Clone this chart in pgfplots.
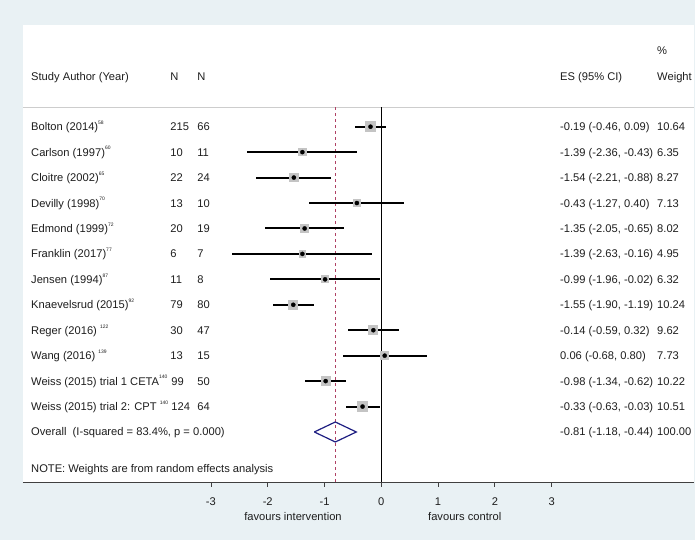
\documentclass[border=0pt]{standalone}
\usepackage{fontspec}
\setmainfont{Liberation Sans}
\usepackage{pgfplots}
\pgfplotsset{compat=1.18}
\usepackage{pgfplotstable}
\usetikzlibrary{backgrounds,calc}
\definecolor{bgblue}{RGB}{233,241,244}
\definecolor{boxgray}{RGB}{196,196,196}
\definecolor{dashred}{RGB}{175,65,100}
\definecolor{navyd}{RGB}{30,30,130}
\definecolor{txt}{RGB}{30,30,30}
\definecolor{hline}{RGB}{205,205,205}
\newcommand\sps[1]{\raisebox{1.05ex}{\fontsize{5}{5}\selectfont #1}}

\pgfplotstableread{
row es lo hi ep em w
-1 -0.19 -0.46 0.09 0.28 0.27 10.64
-2 -1.39 -2.36 -0.43 0.96 0.97 6.35
-3 -1.54 -2.21 -0.88 0.66 0.67 8.27
-4 -0.43 -1.27 0.40 0.83 0.84 7.13
-5 -1.35 -2.05 -0.65 0.70 0.70 8.02
-6 -1.39 -2.63 -0.16 1.23 1.24 4.95
-7 -0.99 -1.96 -0.02 0.97 0.97 6.32
-8 -1.55 -1.90 -1.19 0.36 0.35 10.24
-9 -0.14 -0.59 0.32 0.46 0.45 9.62
-10 0.06 -0.68 0.80 0.74 0.74 7.73
-11 -0.98 -1.34 -0.62 0.36 0.36 10.22
-12 -0.33 -0.63 -0.03 0.30 0.30 10.51
}\studies

\begin{document}
\begin{tikzpicture}[font=\fontsize{11.2}{13}\selectfont, text=txt,
  lab/.style={anchor=base west, yshift=-4bp, inner sep=0pt}]
\begin{axis}[name=ax, scale only axis, width=671bp, height=457bp,
  xmin=-6.310, xmax=5.507, ymin=-14.966, ymax=2.998,
  axis x line=bottom, axis y line=none,
  x axis line style={-, draw=black!75, line width=0.9bp},
  xtick={-3,-2,-1,0,1,2,3}, ytick=\empty,
  tick align=outside, major tick length=5bp,
  xtick style={draw=black!75, line width=0.9bp},
  /pgf/number format/assume math mode=true,
  xticklabel style={font=\fontsize{11.2}{13}\selectfont, text=txt, yshift=-7bp},
  clip=false]

% header separator
\draw[hline, line width=1bp] (axis cs:-6.310,-0.245) -- (axis cs:5.507,-0.245);

% reference lines
\addplot[black, line width=1bp] coordinates {(0,-0.245) (0,-14.966)};
\addplot[dashred, line width=1bp, dash pattern=on 3bp off 3bp] coordinates {(-0.81,-0.245) (-0.81,-14.966)};

% weight boxes
\addplot[scatter, only marks, mark=square*,
  mark options={draw=boxgray, fill=boxgray, line width=0pt},
  scatter/use mapped color={draw=boxgray, fill=boxgray},
  visualization depends on={\thisrow{w} \as \wt},
  scatter/@pre marker code/.append style={/tikz/mark size={1.45*sqrt(\wt)}}]
  table[x=es, y=row] {\studies};

% confidence intervals
\addplot[draw=none, mark=none, error bars/.cd, x dir=both, x explicit, error mark=none,
  error bar style={draw=black, solid, line width=2bp}]
  table[x=es, y=row, x error plus=ep, x error minus=em] {\studies};

% point estimates
\addplot[only marks, mark=*, mark size=2.1bp, mark options={fill=black, draw=black, line width=0.3bp}]
  table[x=es, y=row] {\studies};

% overall diamond
\addplot[navyd, line width=1.2bp] coordinates {(-1.18,-13) (-0.81,-12.607) (-0.44,-13) (-0.81,-13.393) (-1.18,-13)};

% header text
\node[lab] at (axis cs:4.856,2.015) {\%};
\node[lab] at (axis cs:-6.169,0.954) {Study Author (Year)};
\node[lab] at (axis cs:-3.718,0.954) {N};
\node[lab] at (axis cs:-3.243,0.954) {N};
\node[lab] at (axis cs:3.147,0.954) {ES (95\% CI)};
\node[lab] at (axis cs:4.856,0.954) {Weight};

% study labels
\node[lab] at (axis cs:-6.169,-1) {Bolton (2014)\sps{58}};
\node[lab] at (axis cs:-6.169,-2) {Carlson (1997)\sps{60}};
\node[lab] at (axis cs:-6.169,-3) {Cloitre (2002)\sps{65}};
\node[lab] at (axis cs:-6.169,-4) {Devilly (1998)\sps{70}};
\node[lab] at (axis cs:-6.169,-5) {Edmond (1999)\sps{72}};
\node[lab] at (axis cs:-6.169,-6) {Franklin (2017)\sps{77}};
\node[lab] at (axis cs:-6.169,-7) {Jensen (1994)\sps{87}};
\node[lab] at (axis cs:-6.169,-8) {Knaevelsrud (2015)\sps{92}};
\node[lab] at (axis cs:-6.169,-9) {Reger (2016) \sps{122}};
\node[lab] at (axis cs:-6.169,-10) {Wang (2016) \sps{139}};
\node[lab] at (axis cs:-6.169,-11) {Weiss (2015) trial 1 CETA\sps{140}};
\node[lab] at (axis cs:-6.169,-12) {Weiss (2015) trial 2: CPT \sps{140}};
\node[lab] at (axis cs:-6.169,-13) {Overall\ \ (I-squared = 83.4\%, p = 0.000)};
\node[lab] at (axis cs:-6.169,-14.43) {NOTE: Weights are from random effects analysis};

% N columns
\node[lab] at (axis cs:-3.718,-1) {215};
\node[lab] at (axis cs:-3.718,-2) {10};
\node[lab] at (axis cs:-3.718,-3) {22};
\node[lab] at (axis cs:-3.718,-4) {13};
\node[lab] at (axis cs:-3.718,-5) {20};
\node[lab] at (axis cs:-3.718,-6) {6};
\node[lab] at (axis cs:-3.718,-7) {11};
\node[lab] at (axis cs:-3.718,-8) {79};
\node[lab] at (axis cs:-3.718,-9) {30};
\node[lab] at (axis cs:-3.718,-10) {13};
\node[lab] at (axis cs:-3.70,-11) {99};
\node[lab] at (axis cs:-3.70,-12) {124};
\node[lab] at (axis cs:-3.243,-1) {66};
\node[lab] at (axis cs:-3.243,-2) {11};
\node[lab] at (axis cs:-3.243,-3) {24};
\node[lab] at (axis cs:-3.243,-4) {10};
\node[lab] at (axis cs:-3.243,-5) {19};
\node[lab] at (axis cs:-3.243,-6) {7};
\node[lab] at (axis cs:-3.243,-7) {8};
\node[lab] at (axis cs:-3.243,-8) {80};
\node[lab] at (axis cs:-3.243,-9) {47};
\node[lab] at (axis cs:-3.243,-10) {15};
\node[lab] at (axis cs:-3.243,-11) {50};
\node[lab] at (axis cs:-3.243,-12) {64};

% ES column
\node[lab] at (axis cs:3.147,-1) {-0.19 (-0.46, 0.09)};
\node[lab] at (axis cs:3.147,-2) {-1.39 (-2.36, -0.43)};
\node[lab] at (axis cs:3.147,-3) {-1.54 (-2.21, -0.88)};
\node[lab] at (axis cs:3.147,-4) {-0.43 (-1.27, 0.40)};
\node[lab] at (axis cs:3.147,-5) {-1.35 (-2.05, -0.65)};
\node[lab] at (axis cs:3.147,-6) {-1.39 (-2.63, -0.16)};
\node[lab] at (axis cs:3.147,-7) {-0.99 (-1.96, -0.02)};
\node[lab] at (axis cs:3.147,-8) {-1.55 (-1.90, -1.19)};
\node[lab] at (axis cs:3.147,-9) {-0.14 (-0.59, 0.32)};
\node[lab] at (axis cs:3.147,-10) {0.06 (-0.68, 0.80)};
\node[lab] at (axis cs:3.147,-11) {-0.98 (-1.34, -0.62)};
\node[lab] at (axis cs:3.147,-12) {-0.33 (-0.63, -0.03)};
\node[lab] at (axis cs:3.147,-13) {-0.81 (-1.18, -0.44)};

% weight column
\node[lab] at (axis cs:4.856,-1) {10.64};
\node[lab] at (axis cs:4.856,-2) {6.35};
\node[lab] at (axis cs:4.856,-3) {8.27};
\node[lab] at (axis cs:4.856,-4) {7.13};
\node[lab] at (axis cs:4.856,-5) {8.02};
\node[lab] at (axis cs:4.856,-6) {4.95};
\node[lab] at (axis cs:4.856,-7) {6.32};
\node[lab] at (axis cs:4.856,-8) {10.24};
\node[lab] at (axis cs:4.856,-9) {9.62};
\node[lab] at (axis cs:4.856,-10) {7.73};
\node[lab] at (axis cs:4.856,-11) {10.22};
\node[lab] at (axis cs:4.856,-12) {10.51};
\node[lab] at (axis cs:4.856,-13) {100.00};

% axis captions
\node at (axis cs:-1.555,-14.966) [yshift=-35bp] {favours intervention};
\node at (axis cs:1.47,-14.966) [yshift=-35bp] {favours control};
\end{axis}

\begin{scope}[on background layer]
\fill[bgblue] ($(ax.south west)+(-23bp,-58bp)$) rectangle ($(ax.north east)+(1bp,25bp)$);
\fill[white] (ax.south west) rectangle (ax.north east);
\end{scope}
\pgfresetboundingbox
\path[use as bounding box] ($(ax.south west)+(-23bp,-58bp)$) rectangle ($(ax.north east)+(1bp,25bp)$);
\end{tikzpicture}
\end{document}
